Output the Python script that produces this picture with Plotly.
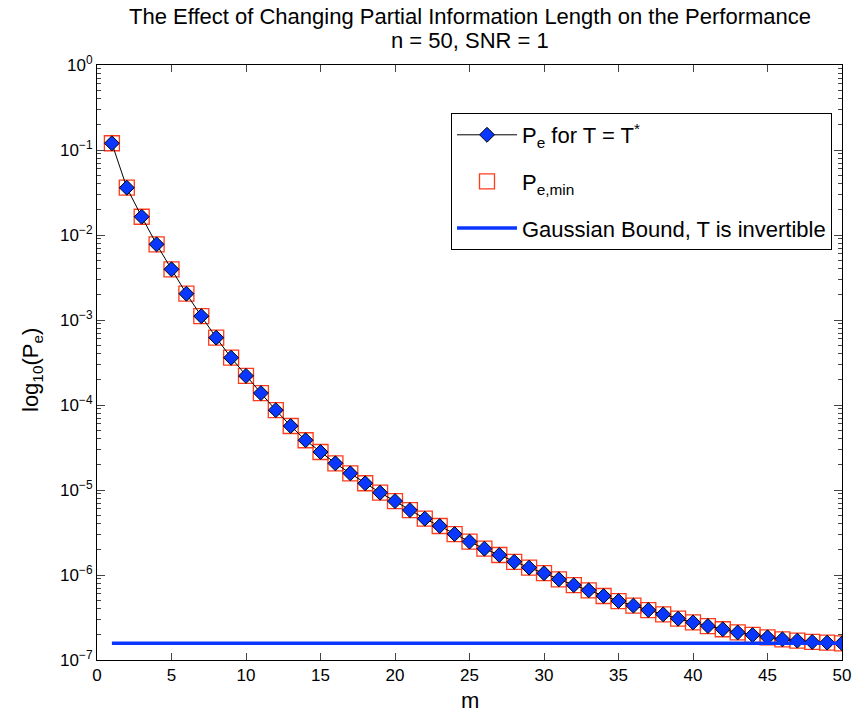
import plotly.graph_objects as go

m = list(range(1, 51))
pe_t_star = [0.12, 0.036, 0.0164, 0.00776, 0.00395, 0.00204, 0.00111, 6.2e-4, 3.6e-4, 2.2e-4,
             1.38e-4, 8.7e-5, 5.66e-5, 3.85e-5, 2.8e-5, 2.06e-5, 1.57e-5, 1.2e-5, 9.3e-6, 7.4e-6,
             5.8e-6, 4.6e-6, 3.77e-6, 3.03e-6, 2.47e-6, 2.04e-6, 1.72e-6, 1.43e-6, 1.22e-6, 1.05e-6,
             8.9e-7, 7.6e-7, 6.6e-7, 5.66e-7, 4.94e-7, 4.36e-7, 3.87e-7, 3.44e-7, 3.06e-7, 2.77e-7,
             2.51e-7, 2.3e-7, 2.11e-7, 1.97e-7, 1.85e-7, 1.75e-7, 1.69e-7, 1.63e-7, 1.6e-7, 1.57e-7]
pe_min = list(pe_t_star)
gauss_x = [1, 50]
gauss_y = [1.57e-7, 1.57e-7]

x_ticks = list(range(0, 51, 5))
y_exps = list(range(-7, 1))
y_tickvals = [10.0 ** e for e in y_exps]
y_ticktext = ["10<sup>%s</sup>" % (str(e).replace("-", "\u2212")) for e in y_exps]
y_minor = [k * 10.0 ** e for e in range(-7, 0) for k in range(2, 10)]

title_lines = ["The Effect of Changing Partial Information Length on the Performance",
               "n = 50, SNR = 1"]
x_label = "m"
y_label = "log<sub>10</sub>(P<sub>e</sub>)"

FONT = "Liberation Sans, Arial, Helvetica, sans-serif"
BLUE = "#0a37ff"
RED = "#ff3b1a"

fig = go.Figure()
fig.add_trace(go.Scatter(
    x=m, y=pe_min, mode="markers", name="P<sub>e,min</sub>", legendrank=2, legendgroup="b",
    marker=dict(symbol="square-open", size=15, color=RED, line=dict(width=1.3, color=RED)),
))
fig.add_trace(go.Scatter(
    x=m, y=pe_t_star, mode="lines+markers", name="P<sub>e</sub> for T = T<sup>*</sup>", legendrank=1,
    legendgroup="a",
    line=dict(color="black", width=1),
    marker=dict(symbol="diamond", size=11.5, color=BLUE, line=dict(width=1, color="black")),
))
fig.add_trace(go.Scatter(
    x=gauss_x, y=gauss_y, mode="lines", name="Gaussian Bound, T is invertible", legendrank=3,
    legendgroup="c",
    line=dict(color=BLUE, width=3.5),
))

annotations = [
    dict(text=title_lines[0], x=0.5, y=(660 - 16) / 595, xref="paper", yref="paper",
         xanchor="center", yanchor="middle", showarrow=False, font=dict(size=22)),
    dict(text=title_lines[1], x=0.5, y=(660 - 41) / 595, xref="paper", yref="paper",
         xanchor="center", yanchor="middle", showarrow=False, font=dict(size=22)),
    dict(text=x_label, x=0.5, y=(660 - 700) / 595, xref="paper", yref="paper",
         xanchor="center", yanchor="middle", showarrow=False, font=dict(size=22)),
    dict(text=y_label, x=(32 - 97) / 745, y=(660 - 370) / 595, xref="paper", yref="paper",
         xanchor="center", yanchor="middle", showarrow=False, textangle=-90, font=dict(size=22)),
]

fig.update_layout(
    width=854, height=713,
    margin=dict(l=97, r=12, t=65, b=53),
    paper_bgcolor="white", plot_bgcolor="white",
    font=dict(family=FONT, size=17, color="black"),
    annotations=annotations,
    showlegend=True,
    legend=dict(x=(832 - 97) / 745, xanchor="right", y=(660 - 113) / 595, yanchor="top", bgcolor="white",
                bordercolor="black", borderwidth=1, font=dict(size=22), itemwidth=60,
                tracegroupgap=15),
    xaxis=dict(range=[0, 50], tickmode="array", tickvals=x_ticks, ticks="inside", ticklen=7,
               showline=True, linecolor="black", linewidth=1, mirror="ticks", showgrid=False,
               zeroline=False, automargin=False, tickfont=dict(size=17)),
    yaxis=dict(type="log", range=[-7, 0], tickmode="array", tickvals=y_tickvals, ticktext=y_ticktext,
               ticks="inside", ticklen=8, showline=True, linecolor="black", linewidth=1, mirror="ticks",
               showgrid=False, zeroline=False, automargin=False, tickfont=dict(size=17),
               minor=dict(tickmode="array", tickvals=y_minor, ticks="inside", ticklen=4, showgrid=False)),
)

fig.write_html("out.html")
